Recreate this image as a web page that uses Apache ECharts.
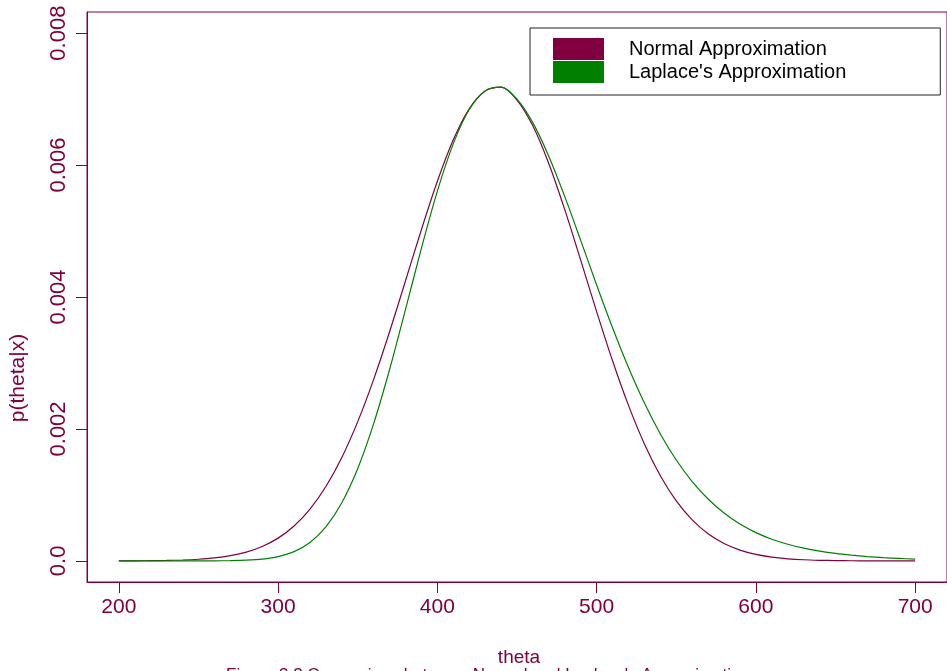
<!DOCTYPE html>
<html>
<head>
<meta charset="utf-8">
<script src="https://cdn.jsdelivr.net/npm/echarts@6/dist/echarts.min.js"></script>
<style>
  html, body { margin: 0; padding: 0; background: #fff; }
  #chart-container { width: 947px; height: 671px; }
</style>
</head>
<body>
<div id="chart-container"></div>
<script>
// theta grid (step 10)
const theta = [200, 210, 220, 230, 240, 250, 260, 270, 280, 290,
  300, 310, 320, 330, 340, 350, 360, 370, 380, 390,
  400, 410, 420, 430, 440, 450, 460, 470, 480, 490,
  500, 510, 520, 530, 540, 550, 560, 570, 580, 590,
  600, 610, 620, 630, 640, 650, 660, 670, 680, 690, 700];

// Normal approximation
const normalApprox = [0.0000008, 0.0000017, 0.0000035, 0.000007, 0.0000135, 0.000025, 0.000045, 0.000079, 0.000133, 0.000218,
  0.000345, 0.000528, 0.000785, 0.001127, 0.001567, 0.002111, 0.002752, 0.003474, 0.004246, 0.005023,
  0.005754, 0.006382, 0.006852, 0.007123, 0.00718, 0.006986, 0.006591, 0.006021, 0.005324, 0.004558,
  0.003779, 0.003033, 0.002357, 0.001773, 0.001291, 0.00091, 0.000622, 0.000411, 0.000263, 0.000163,
  0.000098, 0.000057, 0.000032, 0.000017, 0.0000092, 0.0000047, 0.0000023, 0.0000011, 0.0000005, 0.0000002, 0.0000001];

// Laplace's approximation
const laplaceApprox = [0, 0, 0, 0, 0, 0.0000003, 0.0000011, 0.0000037, 0.0000105, 0.000027,
  0.000065, 0.000141, 0.00028, 0.000516, 0.000882, 0.001401, 0.002081, 0.002901, 0.003812, 0.004741,
  0.005605, 0.006325, 0.006842, 0.007124, 0.00718, 0.006999, 0.006639, 0.00613, 0.005521, 0.004858,
  0.004183, 0.003533, 0.00293, 0.002392, 0.001924, 0.001529, 0.001203, 0.000938, 0.000725, 0.000558,
  0.000428, 0.000328, 0.000252, 0.000193, 0.000148, 0.000113, 0.000087, 0.000066, 0.00005, 0.000037, 0.000026];

const xTicks = [200, 300, 400, 500, 600, 700];
const yTicks = [0, 0.002, 0.004, 0.006, 0.008];
const yTickLabels = ['0.0', '0.002', '0.004', '0.006', '0.008'];

const seriesNames = ['Normal Approximation', "Laplace's Approximation"];

const purple = '#800040';
const green = '#008000';
const font = '"Liberation Sans", Arial, sans-serif';

var dom = document.getElementById('chart-container');
var myChart = echarts.init(dom, null, { renderer: 'canvas' });

var option = {
    animation: false,
    backgroundColor: '#fff',
    grid: {
        left: 87,
        top: 12,
        width: 866,
        height: 570,
        show: true,
        borderColor: purple,
        borderWidth: 1
    },
    legend: {
        orient: 'vertical',
        left: 530,
        top: 28,
        icon: 'rect',
        itemWidth: 51,
        itemHeight: 22,
        itemGap: 1,
        padding: [10, 94, 12, 23],
        borderColor: '#222',
        borderWidth: 1,
        backgroundColor: '#fff',
        textStyle: {
            color: '#000',
            fontSize: 20,
            fontFamily: font,
            padding: [2, 0, 0, 20]
        },
        data: seriesNames
    },
    xAxis: {
        type: 'value',
        min: 180,
        max: 720,
        splitLine: { show: false },
        axisLine: { show: true, onZero: false, lineStyle: { color: purple, width: 1 } },
        axisTick: {
            show: true,
            inside: false,
            length: 11,
            customValues: xTicks,
            lineStyle: { color: purple, width: 1 }
        },
        axisLabel: {
            customValues: xTicks,
            margin: 15,
            color: purple,
            fontSize: 21,
            fontFamily: font
        }
    },
    yAxis: {
        type: 'value',
        min: -0.00032,
        max: 0.00832,
        splitLine: { show: false },
        axisLine: { show: true, onZero: false, lineStyle: { color: purple, width: 1 } },
        axisTick: {
            show: true,
            inside: false,
            length: 11,
            customValues: yTicks,
            lineStyle: { color: purple, width: 1 }
        },
        axisLabel: {
            customValues: yTicks,
            rotate: 90,
            margin: 17,
            color: purple,
            fontSize: 22,
            fontFamily: font,
            formatter: function (v) {
                const i = yTicks.findIndex(t => Math.abs(t - v) < 1e-9);
                return i >= 0 ? yTickLabels[i] : '';
            }
        }
    },
    graphic: [
        {
            type: 'text',
            x: 18,
            y: 378,
            rotation: Math.PI / 2,
            style: {
                text: 'p(theta|x)',
                fill: purple,
                font: '21px ' + font,
                align: 'center',
                verticalAlign: 'middle'
            }
        },
        {
            type: 'text',
            x: 519,
            y: 658,
            style: {
                text: 'theta',
                fill: purple,
                font: '19px ' + font,
                align: 'center',
                verticalAlign: 'middle'
            }
        },
        {
            type: 'text',
            x: 488,
            y: 667,
            style: {
                text: "Figure 3.3 Comparison between Normal and Laplace's Approximation",
                fill: purple,
                font: '17px ' + font,
                align: 'center',
                verticalAlign: 'top'
            }
        }
    ],
    series: [
        {
            name: seriesNames[0],
            type: 'line',
            symbol: 'none',
            smooth: 0.3,
            color: purple,
            lineStyle: { color: purple, width: 1.2 },
            data: theta.map((t, i) => [t, normalApprox[i]])
        },
        {
            name: seriesNames[1],
            type: 'line',
            symbol: 'none',
            smooth: 0.3,
            color: green,
            lineStyle: { color: green, width: 1.2 },
            data: theta.map((t, i) => [t, laplaceApprox[i]])
        }
    ]
};

myChart.setOption(option);
</script>
</body>
</html>
